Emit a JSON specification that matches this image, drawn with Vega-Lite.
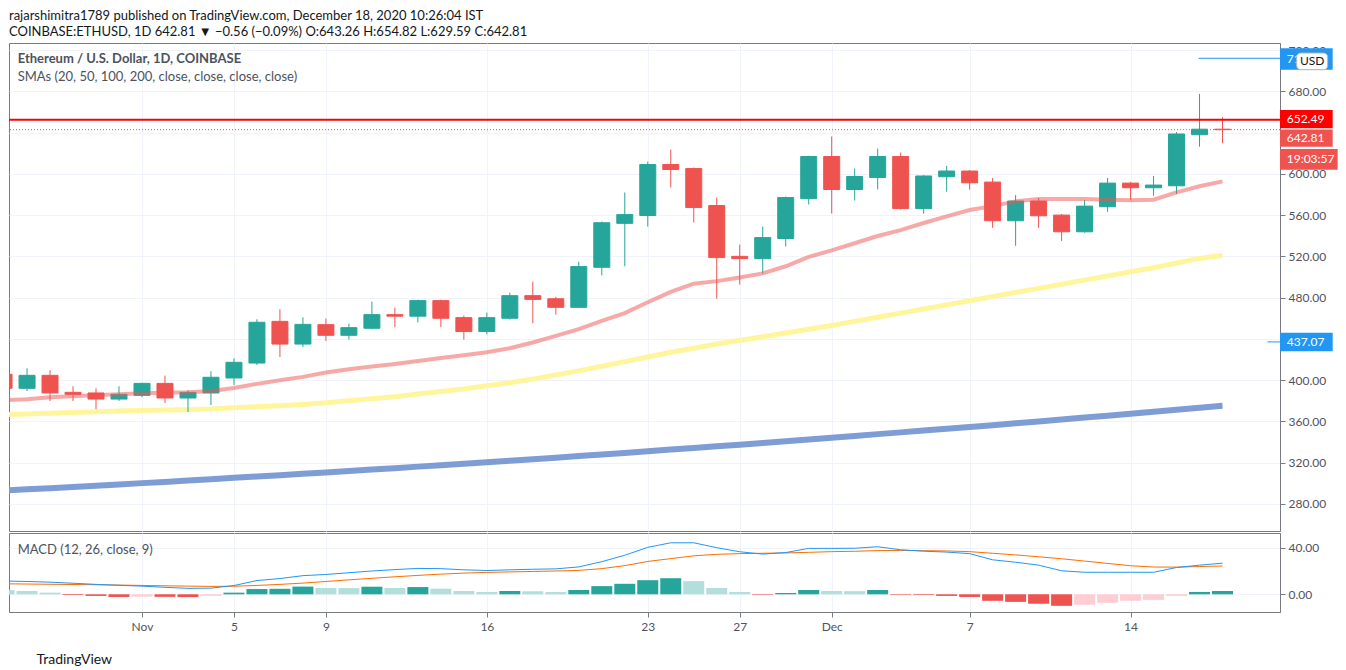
{
  "$schema": "https://vega.github.io/schema/vega-lite/v6.json",
  "background": "white",
  "padding": {"left": 7, "top": 9, "right": 0, "bottom": 0},
  "title": {
    "text": "rajarshimitra1789 published on TradingView.com, December 18, 2020 10:26:04 IST",
    "subtitle": "COINBASE:ETHUSD, 1D  642.81 ▼ −0.56 (−0.09%) O:643.26 H:654.82 L:629.59 C:642.81",
    "anchor": "start", "frame": "group", "font": "Lato", "fontSize": 13, "fontWeight": "normal", "color": "#131722",
    "subtitleFont": "Lato", "subtitleFontSize": 13, "subtitleColor": "#131722", "subtitlePadding": 3, "offset": 4
  },
  "datasets": {
    "d": [
      {"t":"2020-10-26","o":405.7,"h":409.0,"l":389.0,"c":392.1,"s20":380.5,"s50":366.5,"s200":293.0,"m":11.4,"sg":9.0,"hi":3.7,"ph":"pd"},
      {"t":"2020-10-27","o":392.1,"h":411.5,"l":389.5,"c":404.7,"s20":381.5,"s50":367.2,"s200":294.2,"m":11.0,"sg":8.8,"hi":2.8,"ph":"pd"},
      {"t":"2020-10-28","o":404.7,"h":409.6,"l":379.8,"c":387.6,"s20":383.5,"s50":368.0,"s200":295.3,"m":10.4,"sg":8.6,"hi":1.4,"ph":"pd"},
      {"t":"2020-10-29","o":388.2,"h":394.1,"l":379.8,"c":386.3,"s20":384.5,"s50":368.7,"s200":296.5,"m":9.5,"sg":8.4,"hi":-0.6,"ph":"nd"},
      {"t":"2020-10-30","o":387.6,"h":392.1,"l":372.0,"c":381.7,"s20":385.5,"s50":369.3,"s200":297.7,"m":8.5,"sg":8.2,"hi":-1.4,"ph":"nd"},
      {"t":"2020-10-31","o":381.7,"h":394.1,"l":379.8,"c":386.3,"s20":386.3,"s50":370.0,"s200":298.9,"m":7.7,"sg":7.9,"hi":-2.3,"ph":"nd"},
      {"t":"2020-11-01","o":385.3,"h":397.5,"l":383.6,"c":396.9,"s20":387.2,"s50":370.7,"s200":300.2,"m":7.0,"sg":7.6,"hi":-2.0,"ph":"nu"},
      {"t":"2020-11-02","o":396.9,"h":404.4,"l":377.9,"c":382.7,"s20":387.7,"s50":371.1,"s200":301.4,"m":6.0,"sg":7.3,"hi":-2.2,"ph":"nd"},
      {"t":"2020-11-03","o":382.7,"h":390.2,"l":369.2,"c":388.2,"s20":388.2,"s50":371.4,"s200":302.7,"m":5.1,"sg":7.0,"hi":-2.4,"ph":"nd"},
      {"t":"2020-11-04","o":387.6,"h":408.6,"l":375.9,"c":402.8,"s20":389.5,"s50":372.0,"s200":303.9,"m":5.3,"sg":6.8,"hi":-1.4,"ph":"nu"},
      {"t":"2020-11-05","o":402.1,"h":421.2,"l":395.3,"c":417.3,"s20":392.5,"s50":373.3,"s200":305.3,"m":7.5,"sg":6.9,"hi":1.4,"ph":"pu"},
      {"t":"2020-11-06","o":416.6,"h":459.0,"l":414.7,"c":456.1,"s20":396.4,"s50":374.2,"s200":306.6,"m":11.8,"sg":7.6,"hi":4.5,"ph":"pu"},
      {"t":"2020-11-07","o":457.0,"h":468.7,"l":422.4,"c":435.0,"s20":399.9,"s50":375.2,"s200":307.9,"m":13.5,"sg":8.5,"hi":4.7,"ph":"pu"},
      {"t":"2020-11-08","o":435.0,"h":460.9,"l":432.1,"c":454.1,"s20":403.2,"s50":376.5,"s200":309.2,"m":16.0,"sg":9.6,"hi":6.6,"ph":"pu"},
      {"t":"2020-11-09","o":453.8,"h":459.7,"l":438.0,"c":443.5,"s20":407.5,"s50":378.0,"s200":310.6,"m":17.0,"sg":11.0,"hi":5.4,"ph":"pd"},
      {"t":"2020-11-10","o":443.5,"h":454.8,"l":439.3,"c":450.9,"s20":410.5,"s50":380.0,"s200":312.0,"m":18.5,"sg":12.4,"hi":5.3,"ph":"pd"},
      {"t":"2020-11-11","o":450.3,"h":476.1,"l":449.4,"c":463.5,"s20":413.2,"s50":382.0,"s200":313.3,"m":20.0,"sg":13.7,"hi":6.5,"ph":"pu"},
      {"t":"2020-11-12","o":463.5,"h":470.3,"l":451.3,"c":462.0,"s20":415.7,"s50":384.0,"s200":314.7,"m":21.2,"sg":15.0,"hi":5.4,"ph":"pd"},
      {"t":"2020-11-13","o":462.0,"h":478.0,"l":456.0,"c":477.1,"s20":418.5,"s50":386.5,"s200":316.2,"m":22.2,"sg":16.2,"hi":6.2,"ph":"pu"},
      {"t":"2020-11-14","o":477.1,"h":478.0,"l":451.3,"c":460.0,"s20":421.5,"s50":389.0,"s200":317.6,"m":22.0,"sg":17.3,"hi":4.8,"ph":"pd"},
      {"t":"2020-11-15","o":460.6,"h":462.6,"l":439.3,"c":447.1,"s20":424.2,"s50":391.5,"s200":319.0,"m":21.0,"sg":18.2,"hi":2.8,"ph":"pd"},
      {"t":"2020-11-16","o":447.1,"h":465.5,"l":444.5,"c":460.6,"s20":427.0,"s50":394.5,"s200":320.5,"m":20.4,"sg":18.8,"hi":2.0,"ph":"pd"},
      {"t":"2020-11-17","o":460.0,"h":484.8,"l":458.7,"c":481.9,"s20":431.0,"s50":397.5,"s200":321.9,"m":21.0,"sg":19.2,"hi":2.8,"ph":"pu"},
      {"t":"2020-11-18","o":481.9,"h":495.5,"l":455.1,"c":478.3,"s20":436.5,"s50":401.0,"s200":323.4,"m":21.5,"sg":19.6,"hi":2.6,"ph":"pd"},
      {"t":"2020-11-19","o":478.9,"h":480.8,"l":463.5,"c":470.6,"s20":443.0,"s50":405.0,"s200":324.9,"m":21.8,"sg":20.0,"hi":2.0,"ph":"pd"},
      {"t":"2020-11-20","o":470.6,"h":514.9,"l":470.6,"c":510.1,"s20":449.5,"s50":409.0,"s200":326.5,"m":23.5,"sg":20.5,"hi":3.7,"ph":"pu"},
      {"t":"2020-11-21","o":509.4,"h":553.7,"l":501.6,"c":552.6,"s20":457.5,"s50":413.5,"s200":328.0,"m":28.0,"sg":22.0,"hi":7.0,"ph":"pu"},
      {"t":"2020-11-22","o":552.0,"h":581.9,"l":510.4,"c":560.5,"s20":465.0,"s50":418.0,"s200":329.5,"m":33.5,"sg":24.6,"hi":9.0,"ph":"pu"},
      {"t":"2020-11-23","o":559.6,"h":611.9,"l":548.9,"c":609.0,"s20":475.5,"s50":422.5,"s200":331.1,"m":40.3,"sg":28.2,"hi":12.1,"ph":"pu"},
      {"t":"2020-11-24","o":609.0,"h":623.6,"l":586.7,"c":604.2,"s20":485.5,"s50":427.0,"s200":332.7,"m":44.2,"sg":30.6,"hi":13.8,"ph":"pu"},
      {"t":"2020-11-25","o":605.1,"h":606.1,"l":552.8,"c":567.3,"s20":493.5,"s50":431.0,"s200":334.3,"m":44.2,"sg":33.0,"hi":11.3,"ph":"pd"},
      {"t":"2020-11-26","o":569.3,"h":577.0,"l":479.0,"c":518.8,"s20":496.0,"s50":435.0,"s200":335.9,"m":40.0,"sg":34.3,"hi":5.4,"ph":"pd"},
      {"t":"2020-11-27","o":520.0,"h":531.4,"l":492.6,"c":517.8,"s20":499.6,"s50":438.5,"s200":337.5,"m":36.5,"sg":34.9,"hi":2.0,"ph":"pd"},
      {"t":"2020-11-28","o":517.8,"h":548.9,"l":503.3,"c":538.2,"s20":503.5,"s50":442.0,"s200":339.2,"m":34.5,"sg":35.2,"hi":-0.5,"ph":"nd"},
      {"t":"2020-11-29","o":537.3,"h":578.0,"l":529.5,"c":577.0,"s20":510.4,"s50":445.7,"s200":340.8,"m":35.8,"sg":35.5,"hi":1.1,"ph":"pu"},
      {"t":"2020-11-30","o":576.0,"h":617.5,"l":570.3,"c":616.8,"s20":519.5,"s50":449.3,"s200":342.5,"m":39.4,"sg":36.0,"hi":3.7,"ph":"pu"},
      {"t":"2020-12-01","o":616.8,"h":636.2,"l":561.5,"c":584.8,"s20":525.8,"s50":452.9,"s200":344.2,"m":39.4,"sg":36.6,"hi":2.8,"ph":"pd"},
      {"t":"2020-12-02","o":584.8,"h":605.1,"l":574.1,"c":597.4,"s20":532.7,"s50":457.0,"s200":345.9,"m":39.5,"sg":36.9,"hi":2.7,"ph":"pd"},
      {"t":"2020-12-03","o":596.4,"h":624.5,"l":584.8,"c":616.8,"s20":539.7,"s50":461.0,"s200":347.7,"m":40.8,"sg":37.5,"hi":3.7,"ph":"pu"},
      {"t":"2020-12-04","o":616.8,"h":620.6,"l":565.4,"c":566.3,"s20":545.4,"s50":465.0,"s200":349.4,"m":38.2,"sg":37.7,"hi":-0.5,"ph":"nd"},
      {"t":"2020-12-05","o":566.3,"h":598.8,"l":561.3,"c":597.9,"s20":552.3,"s50":469.0,"s200":351.1,"m":37.0,"sg":37.4,"hi":-0.6,"ph":"nd"},
      {"t":"2020-12-06","o":597.2,"h":607.6,"l":582.6,"c":602.7,"s20":558.8,"s50":473.0,"s200":352.9,"m":36.2,"sg":37.2,"hi":-1.4,"ph":"nd"},
      {"t":"2020-12-07","o":602.7,"h":603.7,"l":584.6,"c":591.3,"s20":564.9,"s50":477.0,"s200":354.7,"m":34.9,"sg":36.6,"hi":-2.3,"ph":"nd"},
      {"t":"2020-12-08","o":592.0,"h":595.9,"l":547.7,"c":554.5,"s20":568.7,"s50":481.0,"s200":356.4,"m":29.6,"sg":35.2,"hi":-5.6,"ph":"nd"},
      {"t":"2020-12-09","o":554.5,"h":579.4,"l":530.2,"c":573.6,"s20":573.3,"s50":485.0,"s200":358.2,"m":27.5,"sg":33.8,"hi":-6.5,"ph":"nd"},
      {"t":"2020-12-10","o":573.6,"h":576.5,"l":547.7,"c":559.3,"s20":575.5,"s50":489.0,"s200":360.0,"m":25.0,"sg":32.2,"hi":-8.2,"ph":"nd"},
      {"t":"2020-12-11","o":560.0,"h":561.0,"l":535.0,"c":543.8,"s20":575.5,"s50":493.0,"s200":361.9,"m":20.2,"sg":30.5,"hi":-9.9,"ph":"nd"},
      {"t":"2020-12-12","o":543.8,"h":574.6,"l":542.9,"c":568.7,"s20":575.5,"s50":497.0,"s200":363.7,"m":18.9,"sg":28.5,"hi":-9.0,"ph":"nu"},
      {"t":"2020-12-13","o":568.1,"h":595.9,"l":563.2,"c":591.0,"s20":574.9,"s50":501.0,"s200":365.6,"m":18.9,"sg":26.5,"hi":-7.3,"ph":"nu"},
      {"t":"2020-12-14","o":591.0,"h":592.0,"l":574.9,"c":586.5,"s20":574.3,"s50":505.0,"s200":367.5,"m":18.9,"sg":24.5,"hi":-5.6,"ph":"nu"},
      {"t":"2020-12-15","o":586.5,"h":597.9,"l":578.7,"c":589.1,"s20":574.9,"s50":509.0,"s200":369.4,"m":18.9,"sg":23.4,"hi":-4.8,"ph":"nu"},
      {"t":"2020-12-16","o":588.4,"h":640.5,"l":580.4,"c":638.6,"s20":582.0,"s50":513.5,"s200":371.3,"m":23.0,"sg":23.3,"hi":-1.4,"ph":"nu"},
      {"t":"2020-12-17","o":637.9,"h":677.4,"l":626.3,"c":643.26,"s20":587.9,"s50":518.0,"s200":373.2,"m":25.0,"sg":23.8,"hi":2.0,"ph":"pu"},
      {"t":"2020-12-18","o":643.26,"h":654.82,"l":629.59,"c":642.81,"s20":592.7,"s50":521.0,"s200":375.2,"m":26.7,"sg":24.3,"hi":2.8,"ph":"pu"}
    ]
  },
  "spacing": 0,
  "vconcat": [
    {
      "width": 1271,
      "height": 488,
      "layer": [
        {
          "data": {"name": "d"},
          "mark": {"type": "line", "color": "#7E9DD5", "strokeWidth": 6, "clip": true},
          "encoding": {
            "x": {"field": "t", "type": "temporal",
              "scale": {"type": "utc", "padding": 0, "domain": [{"year":2020,"month":10,"date":26,"hours":5,"minutes":10,"utc":true},{"year":2020,"month":12,"date":20,"hours":12,"utc":true}]},
              "axis": {"values": [{"year":2020,"month":11,"date":1,"utc":true},{"year":2020,"month":11,"date":5,"utc":true},{"year":2020,"month":11,"date":9,"utc":true},{"year":2020,"month":11,"date":16,"utc":true},{"year":2020,"month":11,"date":23,"utc":true},{"year":2020,"month":11,"date":27,"utc":true},{"year":2020,"month":12,"date":1,"utc":true},{"year":2020,"month":12,"date":7,"utc":true},{"year":2020,"month":12,"date":14,"utc":true}],
                "labels": false, "ticks": false, "domain": false, "grid": true, "gridColor": "#F0F3FA", "title": null}},
            "y": {"field": "s200", "type": "quantitative",
              "scale": {"domain": [253.8, 726.8], "nice": false, "zero": false, "padding": 0},
              "axis": {"orient": "right", "values": [280,320,360,400,440,480,520,560,600,640,680,720], "format": ".2f",
                "labelExpr": "datum.value == 440 || datum.value == 640 ? '' : format(datum.value, '.2f')",
                "grid": true, "gridColor": "#F0F3FA",
                "domain": true, "domainColor": "#787B86", "ticks": true, "tickSize": 5, "tickColor": "#787B86", "labelPadding": 3,
                "labelFont": "Lato", "labelFontSize": 12, "labelColor": "#50535E", "title": null}}
          }
        },
        {
          "data": {"name": "d"},
          "mark": {"type": "line", "color": "#FFF59D", "strokeWidth": 5, "clip": true},
          "encoding": {
            "x": {"field": "t", "type": "temporal"},
            "y": {"field": "s50", "type": "quantitative"}
          }
        },
        {
          "data": {"name": "d"},
          "mark": {"type": "rule", "strokeWidth": 1, "clip": true},
          "encoding": {
            "x": {"field": "t", "type": "temporal"},
            "y": {"field": "l", "type": "quantitative"},
            "y2": {"field": "h"},
            "color": {"condition": {"test": "datum.c >= datum.o", "value": "#26A69A"}, "value": "#EF5350"}
          }
        },
        {
          "data": {"name": "d"},
          "mark": {"type": "bar", "width": 16, "strokeWidth": 1, "clip": true},
          "encoding": {
            "x": {"field": "t", "type": "temporal"},
            "y": {"field": "o", "type": "quantitative"},
            "y2": {"field": "c"},
            "color": {"condition": {"test": "datum.c >= datum.o", "value": "#26A69A"}, "value": "#EF5350"},
            "stroke": {"condition": {"test": "datum.c >= datum.o", "value": "#26A69A"}, "value": "#EF5350"}
          }
        },
        {
          "data": {"name": "d"},
          "mark": {"type": "line", "color": "#EF5350", "opacity": 0.5, "strokeWidth": 4, "clip": true},
          "encoding": {
            "x": {"field": "t", "type": "temporal"},
            "y": {"field": "s20", "type": "quantitative"}
          }
        },
        {
          "data": {"values": [{}]},
          "mark": {"type": "rule", "color": "#FF0000", "strokeWidth": 2},
          "encoding": {"y": {"datum": 652.49, "type": "quantitative"}}
        },
        {
          "data": {"values": [{}]},
          "mark": {"type": "rule", "color": "#EF5350", "strokeWidth": 1, "strokeDash": [1, 2]},
          "encoding": {"y": {"datum": 642.81, "type": "quantitative"}}
        },
        {
          "data": {"values": [{}]},
          "mark": {"type": "rule", "color": "#2196F3", "strokeWidth": 1},
          "encoding": {
            "x": {"datum": {"year":2020,"month":12,"date":16,"hours":23,"utc":true}, "type": "temporal"},
            "x2": {"datum": {"year":2020,"month":12,"date":20,"hours":12,"utc":true}},
            "y": {"datum": 712, "type": "quantitative"}
          }
        },
        {
          "data": {"values": [{}]},
          "mark": {"type": "rule", "color": "#2196F3", "strokeWidth": 1},
          "encoding": {
            "x": {"datum": {"year":2020,"month":12,"date":19,"hours":23,"utc":true}, "type": "temporal"},
            "x2": {"datum": {"year":2020,"month":12,"date":20,"hours":12,"utc":true}},
            "y": {"datum": 437.07, "type": "quantitative"}
          }
        },
        {
          "data": {"values": [{}]},
          "mark": {"type": "rect", "color": "#2196F3", "clip": false},
          "encoding": {
            "x": {"datum": {"year":2020,"month":12,"date":20,"hours":12,"utc":true}, "type": "temporal"},
            "x2": {"datum": {"year":2020,"month":12,"date":22,"hours":19,"utc":true}},
            "y": {"datum": 721.7, "type": "quantitative"},
            "y2": {"datum": 700.9}
          }
        },
        {
          "data": {"values": [{}]},
          "mark": {"type": "text", "color": "white", "font": "Lato", "fontSize": 12, "align": "left", "baseline": "middle", "clip": false},
          "encoding": {
            "x": {"datum": {"year":2020,"month":12,"date":20,"hours":19,"utc":true}, "type": "temporal"},
            "y": {"datum": 711.3, "type": "quantitative"},
            "text": {"value": "711.30"}
          }
        },
        {
          "data": {"values": [{}]},
          "mark": {"type": "rect", "fill": "white", "stroke": "#B2B5BE", "strokeWidth": 1, "cornerRadius": 4, "clip": false},
          "encoding": {
            "x": {"datum": {"year":2020,"month":12,"date":21,"hours":5,"minutes":25,"utc":true}, "type": "temporal"},
            "x2": {"datum": {"year":2020,"month":12,"date":22,"hours":13,"minutes":45,"utc":true}},
            "y": {"datum": 717.1, "type": "quantitative"},
            "y2": {"datum": 700.9}
          }
        },
        {
          "data": {"values": [{}]},
          "mark": {"type": "text", "color": "#131722", "font": "Lato", "fontSize": 12, "align": "center", "baseline": "middle", "clip": false},
          "encoding": {
            "x": {"datum": {"year":2020,"month":12,"date":21,"hours":21,"minutes":35,"utc":true}, "type": "temporal"},
            "y": {"datum": 709.0, "type": "quantitative"},
            "text": {"value": "USD"}
          }
        },
        {
          "data": {"values": [{}]},
          "mark": {"type": "rect", "color": "#FF0000", "clip": false},
          "encoding": {
            "x": {"datum": {"year":2020,"month":12,"date":20,"hours":12,"utc":true}, "type": "temporal"},
            "x2": {"datum": {"year":2020,"month":12,"date":22,"hours":19,"utc":true}},
            "y": {"datum": 661.9, "type": "quantitative"},
            "y2": {"datum": 644.1}
          }
        },
        {
          "data": {"values": [{}]},
          "mark": {"type": "text", "color": "white", "font": "Lato", "fontSize": 12, "align": "left", "baseline": "middle", "clip": false},
          "encoding": {
            "x": {"datum": {"year":2020,"month":12,"date":20,"hours":19,"utc":true}, "type": "temporal"},
            "y": {"datum": 653.0, "type": "quantitative"},
            "text": {"value": "652.49"}
          }
        },
        {
          "data": {"values": [{}]},
          "mark": {"type": "rect", "color": "#EF5350", "clip": false},
          "encoding": {
            "x": {"datum": {"year":2020,"month":12,"date":20,"hours":12,"utc":true}, "type": "temporal"},
            "x2": {"datum": {"year":2020,"month":12,"date":22,"hours":19,"utc":true}},
            "y": {"datum": 643.0, "type": "quantitative"},
            "y2": {"datum": 626.3}
          }
        },
        {
          "data": {"values": [{}]},
          "mark": {"type": "text", "color": "white", "font": "Lato", "fontSize": 12, "align": "left", "baseline": "middle", "clip": false},
          "encoding": {
            "x": {"datum": {"year":2020,"month":12,"date":20,"hours":19,"utc":true}, "type": "temporal"},
            "y": {"datum": 634.6, "type": "quantitative"},
            "text": {"value": "642.81"}
          }
        },
        {
          "data": {"values": [{}]},
          "mark": {"type": "rect", "color": "#EF5350", "clip": false},
          "encoding": {
            "x": {"datum": {"year":2020,"month":12,"date":20,"hours":12,"utc":true}, "type": "temporal"},
            "x2": {"datum": {"year":2020,"month":12,"date":23,"hours":0,"minutes":12,"utc":true}},
            "y": {"datum": 624.1, "type": "quantitative"},
            "y2": {"datum": 604.0}
          }
        },
        {
          "data": {"values": [{}]},
          "mark": {"type": "text", "color": "white", "font": "Lato", "fontSize": 12, "align": "left", "baseline": "middle", "clip": false},
          "encoding": {
            "x": {"datum": {"year":2020,"month":12,"date":20,"hours":19,"utc":true}, "type": "temporal"},
            "y": {"datum": 614.2, "type": "quantitative"},
            "text": {"value": "19:03:57"}
          }
        },
        {
          "data": {"values": [{}]},
          "mark": {"type": "rect", "color": "#2196F3", "clip": false},
          "encoding": {
            "x": {"datum": {"year":2020,"month":12,"date":20,"hours":12,"utc":true}, "type": "temporal"},
            "x2": {"datum": {"year":2020,"month":12,"date":22,"hours":19,"utc":true}},
            "y": {"datum": 445.9, "type": "quantitative"},
            "y2": {"datum": 428.0}
          }
        },
        {
          "data": {"values": [{}]},
          "mark": {"type": "text", "color": "white", "font": "Lato", "fontSize": 12, "align": "left", "baseline": "middle", "clip": false},
          "encoding": {
            "x": {"datum": {"year":2020,"month":12,"date":20,"hours":19,"utc":true}, "type": "temporal"},
            "y": {"datum": 437.07, "type": "quantitative"},
            "text": {"value": "437.07"}
          }
        },
        {
          "data": {"values": [{}]},
          "mark": {"type": "text", "color": "#4C525E", "font": "Lato", "fontSize": 13, "fontWeight": "bold", "align": "left", "baseline": "middle"},
          "encoding": {
            "x": {"datum": {"year":2020,"month":10,"date":26,"hours":14,"minutes":13,"utc":true}, "type": "temporal"},
            "y": {"datum": 711.3, "type": "quantitative"},
            "text": {"value": "Ethereum / U.S. Dollar, 1D, COINBASE"}
          }
        },
        {
          "data": {"values": [{}]},
          "mark": {"type": "text", "color": "#4C525E", "font": "Lato", "fontSize": 13, "align": "left", "baseline": "middle"},
          "encoding": {
            "x": {"datum": {"year":2020,"month":10,"date":26,"hours":14,"minutes":13,"utc":true}, "type": "temporal"},
            "y": {"datum": 693.9, "type": "quantitative"},
            "text": {"value": "SMAs (20, 50, 100, 200, close, close, close, close)"}
          }
        }
      ]
    },
    {
      "width": 1271,
      "height": 79,
      "layer": [
        {
          "data": {"name": "d"},
          "mark": {"type": "bar", "width": 21, "clip": true},
          "encoding": {
            "x": {"field": "t", "type": "temporal",
              "scale": {"type": "utc", "padding": 0, "domain": [{"year":2020,"month":10,"date":26,"hours":5,"minutes":10,"utc":true},{"year":2020,"month":12,"date":20,"hours":12,"utc":true}]},
              "axis": {"values": [{"year":2020,"month":11,"date":1,"utc":true},{"year":2020,"month":11,"date":5,"utc":true},{"year":2020,"month":11,"date":9,"utc":true},{"year":2020,"month":11,"date":16,"utc":true},{"year":2020,"month":11,"date":23,"utc":true},{"year":2020,"month":11,"date":27,"utc":true},{"year":2020,"month":12,"date":1,"utc":true},{"year":2020,"month":12,"date":7,"utc":true},{"year":2020,"month":12,"date":14,"utc":true}],
                "labelExpr": "utcdate(datum.value) == 1 ? utcFormat(datum.value, '%b') : utcFormat(datum.value, '%-d')",
                "grid": true, "gridColor": "#F0F3FA", "domain": true, "domainColor": "#787B86", "ticks": true, "tickSize": 5, "tickColor": "#787B86",
                "labelPadding": 4, "labelFont": "Lato", "labelFontSize": 12, "labelColor": "#50535E", "labelFlush": false,
                "title": "TradingView", "titleAnchor": "start", "titleAlign": "left", "titleX": 27, "titleFont": "Lato", "titleFontSize": 14,
                "titleFontWeight": "normal", "titleColor": "#131722", "titlePadding": 20}},
            "y": {"field": "hi", "type": "quantitative",
              "scale": {"domain": [-15.2, 52.6], "nice": false, "zero": false, "padding": 0},
              "axis": {"orient": "right", "values": [0, 40], "format": ".2f", "grid": true, "gridColor": "#F0F3FA",
                "domain": true, "domainColor": "#787B86", "ticks": true, "tickSize": 5, "tickColor": "#787B86", "labelPadding": 3,
                "labelFont": "Lato", "labelFontSize": 12, "labelColor": "#50535E", "title": null}},
            "y2": {"datum": 0},
            "color": {"field": "ph", "type": "nominal",
              "scale": {"domain": ["pu", "pd", "nd", "nu"], "range": ["#26A69A", "#B2DFDB", "#EF5350", "#FFCDD2"]},
              "legend": null}
          }
        },
        {
          "data": {"name": "d"},
          "mark": {"type": "line", "color": "#FF6D00", "strokeWidth": 1, "clip": true},
          "encoding": {
            "x": {"field": "t", "type": "temporal"},
            "y": {"field": "sg", "type": "quantitative"}
          }
        },
        {
          "data": {"name": "d"},
          "mark": {"type": "line", "color": "#2196F3", "strokeWidth": 1, "clip": true},
          "encoding": {
            "x": {"field": "t", "type": "temporal"},
            "y": {"field": "m", "type": "quantitative"}
          }
        },
        {
          "data": {"values": [{}]},
          "mark": {"type": "text", "color": "#4C525E", "font": "Lato", "fontSize": 13, "align": "left", "baseline": "middle"},
          "encoding": {
            "x": {"datum": {"year":2020,"month":10,"date":26,"hours":14,"minutes":13,"utc":true}, "type": "temporal"},
            "y": {"datum": 37.9, "type": "quantitative"},
            "text": {"value": "MACD (12, 26, close, 9)"}
          }
        }
      ]
    }
  ],
  "config": {
    "font": "Lato",
    "view": {"stroke": "#787B86", "strokeWidth": 1},
    "axis": {"labelFont": "Lato"}
  }
}
